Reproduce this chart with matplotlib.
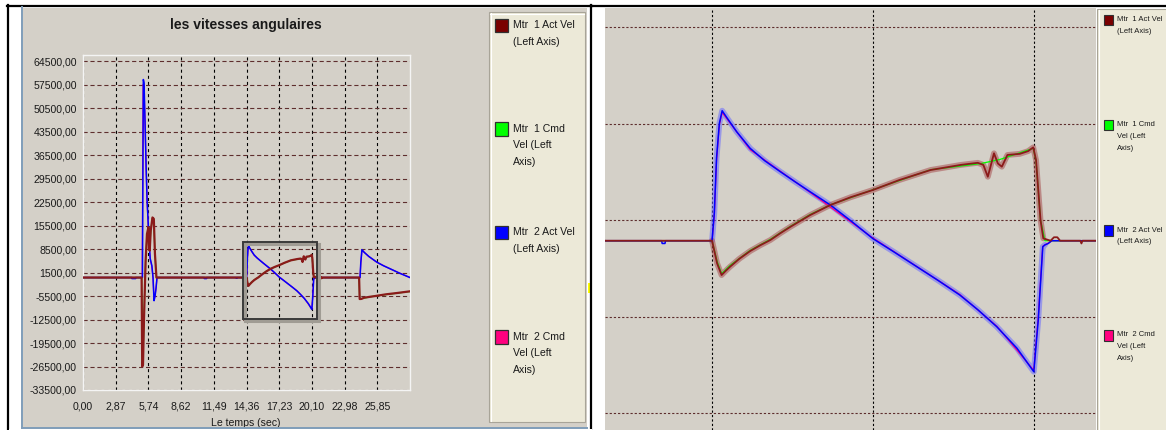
import numpy as np
import matplotlib
matplotlib.use("Agg")
import matplotlib.pyplot as plt
from matplotlib.patches import Rectangle
import matplotlib.transforms as mtransforms

plt.rcParams['font.family'] = ['Liberation Sans', 'DejaVu Sans']
plt.rcParams['lines.scale_dashes'] = False

# ---------------------------------------------------------------- texts
TITLE = "les vitesses angulaires"
XLABEL = "Le temps (sec)"
series_names = [
    ["Mtr  1 Act Vel", "(Left Axis)"],
    ["Mtr  1 Cmd", "Vel (Left", "Axis)"],
    ["Mtr  2 Act Vel", "(Left Axis)"],
    ["Mtr  2 Cmd", "Vel (Left", "Axis)"],
]
series_colors = ["#7a0000", "#00ff00", "#0000ff", "#ff007f"]

x_tick_labels = ["0,00", "2,87", "5,74", "8,62", "11,49", "14,36",
                 "17,23", "20,10", "22,98", "25,85"]
y_tick_labels = ["64500,00", "57500,00", "50500,00", "43500,00", "36500,00",
                 "29500,00", "22500,00", "15500,00", "8500,00", "1500,00",
                 "-5500,00", "-12500,00", "-19500,00", "-26500,00", "-33500,00"]

# ---------------------------------------------------------------- data
# Mtr 1 Act Vel
t_m1_act = [0.00, 5.15, 5.20, 5.27, 5.36, 5.50, 5.62, 5.75, 5.80, 5.86, 5.95,
            6.10, 6.22, 6.32, 6.45,
            14.36, 14.45, 14.53, 14.60, 14.68, 14.85, 15.04, 15.22, 15.40,
            15.58, 15.76, 15.94, 16.11, 16.47, 16.83, 17.23, 17.70, 18.26,
            18.80, 19.10, 19.20, 19.28, 19.39, 19.46, 19.53, 19.63, 19.85,
            20.00, 20.09, 20.14, 20.22, 20.27, 20.40, 20.46, 20.52, 20.57,
            20.93, 20.95, 20.97,
            24.25, 24.30, 24.45, 24.70, 25.52, 26.60, 27.60, 28.72]
v_m1_act = [0, 0, -26500, -26000, -12000, 5000, 13000, 15000, 8500, 8000, 14000,
            17900, 17500, 7000, 0,
            0, -1640, -2490, -2200, -1890, -1300, -750, -330, 50,
            550, 1015, 1450, 1860, 2590, 3150, 3680, 4400, 5130,
            5500, 5650, 5500, 4640, 6340, 5600, 5370, 6220, 6300,
            6500, 6770, 5850, 1500, 170, 0, 250, 250, 0,
            0, -200, 0,
            0, -6400, -6360, -6000, -5580, -5000, -4600, -4100]

# Mtr 1 Cmd Vel
t_m1_cmd = [0.00, 5.15, 5.20, 5.27, 5.36, 5.50, 5.62, 5.75, 5.86, 5.95, 6.10,
            6.22, 6.32, 6.45, 14.36, 14.45, 14.53, 14.68, 15.04, 15.40, 15.76,
            16.11, 16.47, 17.23, 18.26, 19.16, 19.50, 20.09, 20.14, 20.22,
            20.30, 24.25, 24.30, 24.45, 25.52, 28.72]
v_m1_cmd = [0, 0, -25500, -25000, -11000, 5500, 12500, 14500, 8500, 14000, 17500,
            17000, 7000, 0, 0, -1500, -2400, -1800, -700, 100, 1050,
            1900, 2600, 3700, 5150, 5600, 5900, 6700, 5800, 1500,
            0, 0, -6300, -6300, -5550, -4150]

# Mtr 2 Act Vel
t_m2_act = [0.00, 4.29, 4.30, 4.62, 4.63, 5.22, 5.30, 5.36, 5.45, 5.54, 5.63,
            5.80, 5.90, 6.05, 6.15, 6.24, 6.33, 6.42, 6.50,
            10.65, 10.66, 10.85, 10.86, 13.46, 13.47, 13.52, 13.53,
            14.36, 14.40, 14.44, 14.49, 14.54, 14.62, 14.80, 15.04, 15.30,
            15.58, 15.85, 16.11, 16.47, 16.85, 17.23, 17.60, 18.00, 18.40,
            18.78, 19.10, 19.44, 19.80, 20.10, 20.18, 20.26, 20.30, 20.36,
            20.42,
            24.33, 24.40, 24.50, 24.70, 25.10, 25.81, 26.40, 26.99, 27.80,
            28.72]
v_m2_act = [0, 0, -300, -300, 0, 0, 59000, 58000, 46300, 33500, 23000,
            11000, 5700, 3500, 0, -6900, -5500, -3000, 0,
            0, -300, -300, 0, 0, -200, -200, 0,
            0, 2000, 6000, 8500, 9430, 8950, 7900, 6700, 5800,
            5000, 4250, 3550, 2590, 1400, 150, -800, -1850, -2900,
            -3940, -5000, -6240, -7800, -9500, -5750, -440, -300, -200,
            0,
            0, 4500, 8300, 7500, 6300, 4580, 3500, 2600, 1300,
            0]

# Mtr 2 Cmd Vel
t_m2_cmd = [0.00, 5.20, 5.28, 5.36, 5.45, 5.54, 5.63, 5.80, 5.90, 6.05, 6.15,
            6.24, 6.33, 6.42, 6.50, 14.36, 14.40, 14.44, 14.49, 14.54, 15.04,
            16.11, 17.23, 18.78, 19.44, 20.10, 20.18, 20.26, 20.42, 24.33,
            24.40, 24.50, 25.10, 25.81, 26.99, 28.72]
v_m2_cmd = [0, 0, 57500, 57000, 45500, 33000, 22500, 10500, 5500, 3300, 0,
            -6700, -5300, -2900, 0, 0, 1800, 5800, 8400, 9300, 6600,
            3500, 200, -3900, -6200, -9400, -5500, -400, 0, 0,
            4300, 8200, 6250, 4550, 2550, 0]

# time window of the detailed view on the right
detail_window = (14.36, 20.30)

# ---------------------------------------------------------------- figure
W, H = 1166, 430
fig = plt.figure(figsize=(W / 100, H / 100), dpi=100, facecolor="white")

GRAY = "#d4d0c8"
PANEL = "#ece9d8"
HGRID = "#5e2e2e"
ACT1 = "#8b1a1a"


def px_axes(x0, y0, x1, y1, z=1):
    return fig.add_axes([x0 / W, 1 - y1 / H, (x1 - x0) / W, (y1 - y0) / H],
                        zorder=z)


# pixel canvas for the window frames and legends
canvas = px_axes(0, 0, W, H, z=0)
canvas.set_xlim(0, W)
canvas.set_ylim(H, 0)
canvas.axis("off")


def box(x0, y0, x1, y1, **kw):
    canvas.add_patch(Rectangle((x0, y0), x1 - x0, y1 - y0, **kw))


# left window
box(23, 8, 587, 428, facecolor=GRAY, edgecolor="none")
canvas.plot([7.5, 7.5], [5, 430], color="black", lw=1.6)
canvas.plot([7, 592], [6, 6], color="black", lw=1.6)
canvas.plot([22, 22], [7, 430], color="#7f9db9", lw=1.4)
# left legend panel
box(489, 12, 585, 422, facecolor=PANEL, edgecolor="#a8a498", lw=0.8)
canvas.plot([490.5, 490.5], [13, 421], color="white", lw=0.8)
canvas.plot([490, 584], [13.5, 13.5], color="white", lw=0.8)

# right window
canvas.plot([591, 591], [5, 430], color="black", lw=1.6)
canvas.plot([591, W], [6, 6], color="black", lw=1.6)
box(605, 8, 1096, 430, facecolor=GRAY, edgecolor="none")
box(1097, 9, W + 2, 432, facecolor=PANEL, edgecolor="#a8a498", lw=0.8)
canvas.plot([1098.5, 1098.5], [10, 430], color="white", lw=0.8)
box(588, 283, 592, 293, facecolor="#ffff00", edgecolor="none")

# legends
left_rows = [25, 128.5, 232, 336.5]
right_rows = [19.5, 124.5, 230, 335]
for names, col, yl, yr in zip(series_names, series_colors, left_rows, right_rows):
    box(495, yl - 6.5, 508, yl + 7, facecolor=col, edgecolor="#303030", lw=0.9)
    for i, line in enumerate(names):
        canvas.text(513, yl + i * 16.6, line, fontsize=7.6, color="#1a1a1a",
                    va="center", ha="left")
    box(1104, yr - 5, 1113, yr + 5.5, facecolor=col, edgecolor="#303030", lw=0.8)
    for i, line in enumerate(names):
        canvas.text(1117, yr + i * 11.8, line, fontsize=5.5, color="#1a1a1a",
                    va="center", ha="left")

# titles and axis labels
canvas.text(246, 25, TITLE, fontsize=10, fontweight="bold", color="#1a1a1a",
            ha="center", va="center")
canvas.text(246, 426, XLABEL, fontsize=7.6, color="#1a1a1a",
            ha="center", va="baseline")
canvas.text(710, 20, TITLE, fontsize=7.5, fontweight="bold", color="#1a1a1a",
            ha="center", va="center")
canvas.text(707, 429, XLABEL, fontsize=5.2, color="#1a1a1a",
            ha="center", va="baseline")

# bottom frame of the left window, drawn over the cut label
top = px_axes(0, 0, W, H, z=5)
top.set_xlim(0, W)
top.set_ylim(H, 0)
top.axis("off")
top.add_patch(Rectangle((8.5, 428.6), 583, 5, facecolor="white", edgecolor="none"))
top.plot([22, 587], [428.3, 428.3], color="#7f9db9", lw=1.4)

xticks = [float(s.replace(",", ".")) for s in x_tick_labels]
yticks = [float(s.replace(",", ".")) for s in y_tick_labels]

# ---------------------------------------------------------------- left chart
ax = px_axes(83, 55, 410, 390, z=2)
ax.set_facecolor(GRAY)
ax.set_xticks(xticks)
ax.set_xticklabels(x_tick_labels)
ax.set_yticks(yticks)
ax.set_yticklabels(y_tick_labels)
ax.set_xlim(0, 28.72)
ax.set_ylim(-33500, 66300)
ax.tick_params(length=0, labelsize=7.6, labelcolor="#1a1a1a")
ax.tick_params(axis="x", pad=8)
ax.tick_params(axis="y", pad=4.5)
for s in ax.spines.values():
    s.set_color("#f4f4f4")
    s.set_linewidth(1.0)
ax.yaxis.grid(True, color=HGRID, lw=0.8, linestyle=(0, (3.0, 2.0)))
ax.xaxis.grid(True, color="black", lw=0.8, linestyle=(0, (2.2, 2.2)))
ax.set_axisbelow(True)

# commanded traces sit under the measured ones
ax.plot(t_m2_cmd, v_m2_cmd, color=series_colors[3], lw=0.9, zorder=3)
ax.plot(t_m1_cmd, v_m1_cmd, color=series_colors[1], lw=0.9, zorder=3.1)
ax.plot(t_m2_act, v_m2_act, color=series_colors[2], lw=1.1, zorder=3.2)
ax.plot(t_m1_act, v_m1_act, color=ACT1, lw=1.6, zorder=3.4)

# frame marking the detailed view, with a soft drop shadow
shadow_tr = ax.transData + mtransforms.ScaledTranslation(2 / 100, -2 / 100,
                                                         fig.dpi_scale_trans)
ax.add_patch(Rectangle((14.09, -12330), 6.45, 22880, fill=False,
                       edgecolor="#a09c94", lw=2.2, zorder=3.9,
                       transform=shadow_tr))
ax.add_patch(Rectangle((14.09, -12330), 6.45, 22880, fill=False,
                       edgecolor="#3a3a3a", lw=1.4, zorder=4))

# ---------------------------------------------------------------- right chart
ax2 = px_axes(605, 8, 1096, 430, z=2)
ax2.set_facecolor(GRAY)
ax2.set_xticks(xticks)
ax2.set_yticks(yticks)
ax2.set_xlim(12.45, 21.21)
ax2.set_ylim(-13730, 16880)
ax2.tick_params(length=0, labelbottom=False, labelleft=False)
for s in ax2.spines.values():
    s.set_visible(False)
ax2.yaxis.grid(True, color=HGRID, lw=0.8, linestyle=(0, (1.6, 1.4)))
ax2.xaxis.grid(True, color="black", lw=0.8, linestyle=(0, (1.6, 1.6)))
ax2.set_axisbelow(True)


def window(t, v):
    t = np.asarray(t, float)
    v = np.asarray(v, float)
    m = (t >= detail_window[0]) & (t <= detail_window[1])
    return t[m], v[m]


# measured signals carry a fine ripple: a soft band under the trace
tb, vb = window(t_m2_act, v_m2_act)
ax2.plot(tb, vb, color="#6a6aff", lw=4.2, alpha=0.55, zorder=2.5,
         solid_capstyle="round")
tb, vb = window(t_m1_act, v_m1_act)
ax2.plot(tb, vb, color="#a85050", lw=4.2, alpha=0.55, zorder=2.6,
         solid_capstyle="round")

ax2.plot(t_m2_cmd, v_m2_cmd, color=series_colors[3], lw=0.9, zorder=3)
ax2.plot(t_m1_cmd, v_m1_cmd, color=series_colors[1], lw=0.9, zorder=3.1)
ax2.plot(t_m2_act, v_m2_act, color=series_colors[2], lw=1.1, zorder=3.2)
ax2.plot(t_m1_act, v_m1_act, color=ACT1, lw=1.3, zorder=3.4)

fig.savefig("out.png", dpi=100, facecolor="white")
